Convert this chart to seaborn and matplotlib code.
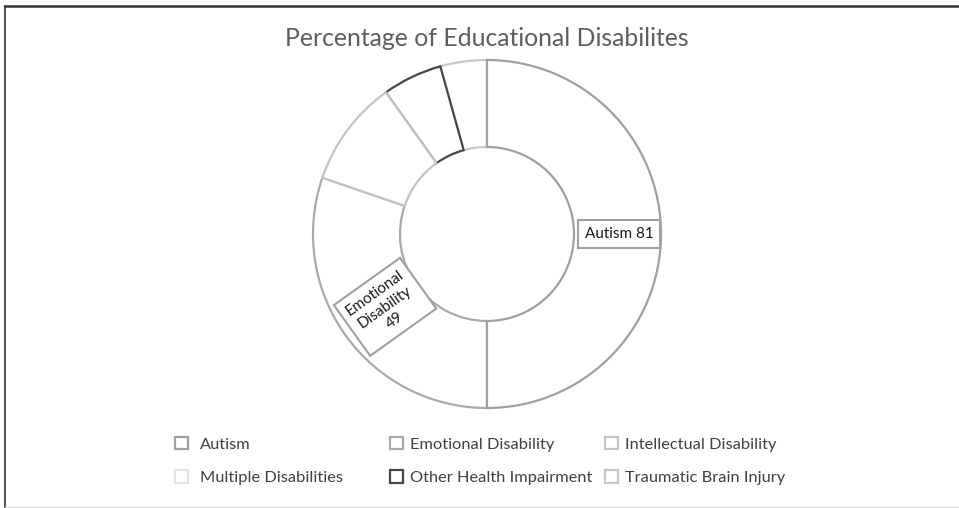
import matplotlib
matplotlib.use("Agg")
import matplotlib.pyplot as plt
import seaborn as sns
import numpy as np
from matplotlib.lines import Line2D

# ---- data ----
categories = ["Autism", "Emotional Disability", "Intellectual Disability",
              "Multiple Disabilities", "Other Health Impairment", "Traumatic Brain Injury"]
counts = [81, 49, 16, 0, 9, 7]
edge_colors = ["#a0a0a0", "#aaaaaa", "#c4c4c4", "#e4e4e4", "#474747", "#c8c8c8"]
data_labels = {"Autism": "Autism 81", "Emotional Disability": "Emotional\nDisability\n49"}
title = "Percentage of Educational Disabilites"

sns.set_theme(style="white")
plt.rcParams['font.family'] = ['Lato', 'DejaVu Sans']

W, H = 959, 508
fig = plt.figure(figsize=(W / 100, H / 100), dpi=100)
fig.patch.set_facecolor("white")

cx, cy, R = 487, 234, 174
ax = fig.add_axes([(cx - R) / W, (H - cy - R) / H, 2 * R / W, 2 * R / H])
wedges, _ = ax.pie(counts, startangle=90, counterclock=False, radius=1,
                   colors=["white"] * len(counts),
                   wedgeprops=dict(width=0.5, linewidth=1.6))
zorders = [3.5, 3.2, 5, 1, 4, 3]
for w, ec, z in zip(wedges, edge_colors, zorders):
    w.set_edgecolor(ec)
    w.set_zorder(z)
ax.set_xlim(-1, 1)
ax.set_ylim(-1, 1)
ax.set_aspect("equal")
ax.axis("off")

# data labels
for w, cat in zip(wedges, categories):
    if cat not in data_labels:
        continue
    mid = (w.theta1 + w.theta2) / 2.0
    a = np.deg2rad(mid)
    if cat == "Autism":
        r, rot = 0.76, 0
    else:
        r, rot = 0.72, (mid + 180) % 360
    ax.text(r * np.cos(a), r * np.sin(a), data_labels[cat], ha="center", va="center",
            rotation=rot, rotation_mode="anchor", multialignment="center",
            fontsize=11, color="#1a1a1a", linespacing=1.3, zorder=10,
            bbox=dict(boxstyle="square,pad=0.45", fc="white", ec="#a0a0a0", lw=1.5))

# title
fig.text(cx / W, 1 - 38 / H, title, ha="center", va="center", fontsize=17.8,
         color="#5e5e5e", fontweight="normal")

# legends (three columns)
cols = [(0, 3, 175, 0.7), (1, 4, 390, 0.4), (2, 5, 605, 0.45)]
for i, j, xpx, pad in cols:
    fig.legend([wedges[i], wedges[j]], [categories[i], categories[j]],
               loc="center left", bbox_to_anchor=(xpx / W, 1 - 461 / H),
               frameon=False, fontsize=11.8, handlelength=0.8, handleheight=0.8,
               handletextpad=pad, labelspacing=1.15, borderpad=0, borderaxespad=0,
               labelcolor="#404040")

# chart frame
fig.add_artist(Line2D([5 / W, 5 / W], [0, 1 - 6 / H], transform=fig.transFigure,
                      color="#555555", lw=1.5))
fig.add_artist(Line2D([5 / W, 1], [1 - 6 / H, 1 - 6 / H], transform=fig.transFigure,
                      color="#333333", lw=1.8))
fig.add_artist(Line2D([5 / W, 1], [1 / H, 1 / H], transform=fig.transFigure,
                      color="#dddddd", lw=1.0))

fig.savefig("out.png", dpi=100)
